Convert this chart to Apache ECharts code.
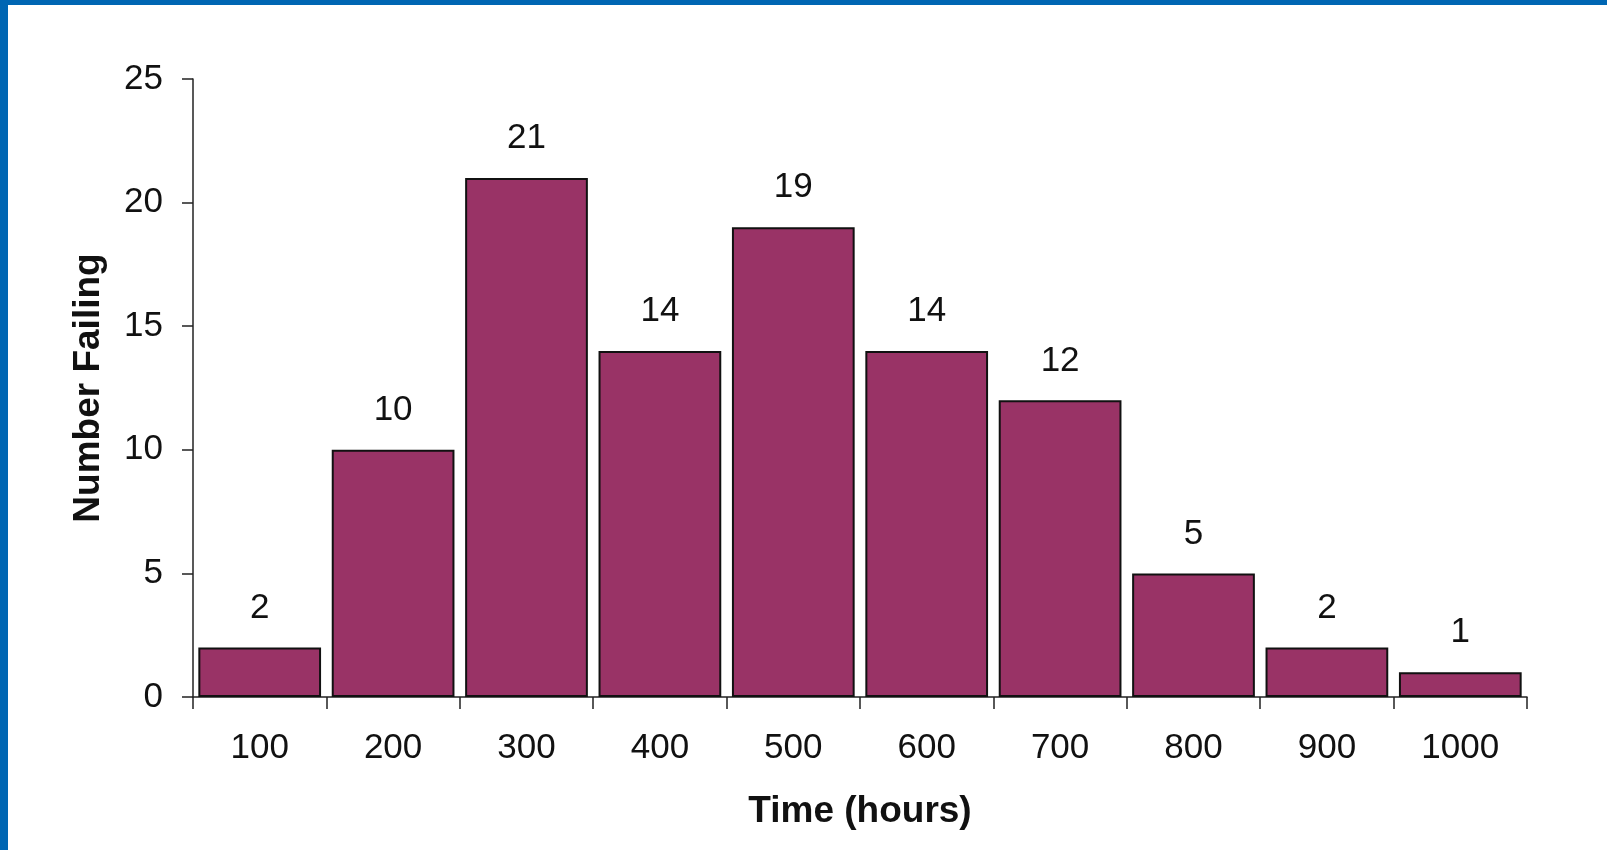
<!DOCTYPE html>
<html>
<head>
<meta charset="utf-8">
<script src="https://cdn.jsdelivr.net/npm/echarts@6/dist/echarts.min.js"></script>
<style>
  html, body { margin: 0; padding: 0; background: #fff; }
  #chart { position: absolute; left: 0; top: 0; width: 1607px; height: 850px; }
  .edge { position: absolute; background: #0066b3; z-index: 10; }
</style>
</head>
<body>
<div id="chart"></div>
<div class="edge" style="left:0;top:0;width:1607px;height:5px;"></div>
<div class="edge" style="left:0;top:0;width:8px;height:850px;"></div>
<script>
// Failure counts per 100-hour time bin
const timeBins = ['100', '200', '300', '400', '500', '600', '700', '800', '900', '1000'];
const numberFailing = [2, 10, 21, 14, 19, 14, 12, 5, 2, 1];
const yTicks = { min: 0, max: 25, interval: 5 };

const fontFamily = '"Liberation Sans", Arial, sans-serif';
const ink = '#111';

const chart = echarts.init(document.getElementById('chart'), null, { renderer: 'canvas' });
chart.setOption({
  animation: false,
  backgroundColor: '#fff',
  grid: { left: 193, right: 80, top: 79, bottom: 153 },
  xAxis: {
    type: 'category',
    data: timeBins,
    name: 'Time (hours)',
    nameLocation: 'middle',
    nameGap: 96,
    nameTextStyle: { fontFamily, fontSize: 37, fontWeight: 'bold', color: ink },
    axisLine: { lineStyle: { color: '#222', width: 1.5 } },
    axisTick: { show: true, length: 12, lineStyle: { color: '#222', width: 1.5 } },
    axisLabel: { fontFamily, fontSize: 35, color: ink, margin: 34 }
  },
  yAxis: {
    type: 'value',
    min: yTicks.min,
    max: yTicks.max,
    interval: yTicks.interval,
    name: 'Number Failing',
    nameLocation: 'middle',
    nameGap: 86,
    nameRotate: 90,
    nameTextStyle: { fontFamily, fontSize: 37, fontWeight: 'bold', color: ink },
    splitLine: { show: false },
    axisLine: { show: true, lineStyle: { color: '#222', width: 1.5 } },
    axisTick: { show: true, length: 11, lineStyle: { color: '#222', width: 1.5 } },
    axisLabel: { fontFamily, fontSize: 35, color: ink, margin: 30 }
  },
  series: [{
    type: 'bar',
    data: numberFailing,
    barCategoryGap: '8%',
    itemStyle: { color: '#993366', borderColor: '#111', borderWidth: 2 },
    label: {
      show: true,
      position: 'top',
      distance: 22,
      fontFamily,
      fontSize: 35,
      color: ink
    }
  }]
});
</script>
</body>
</html>
